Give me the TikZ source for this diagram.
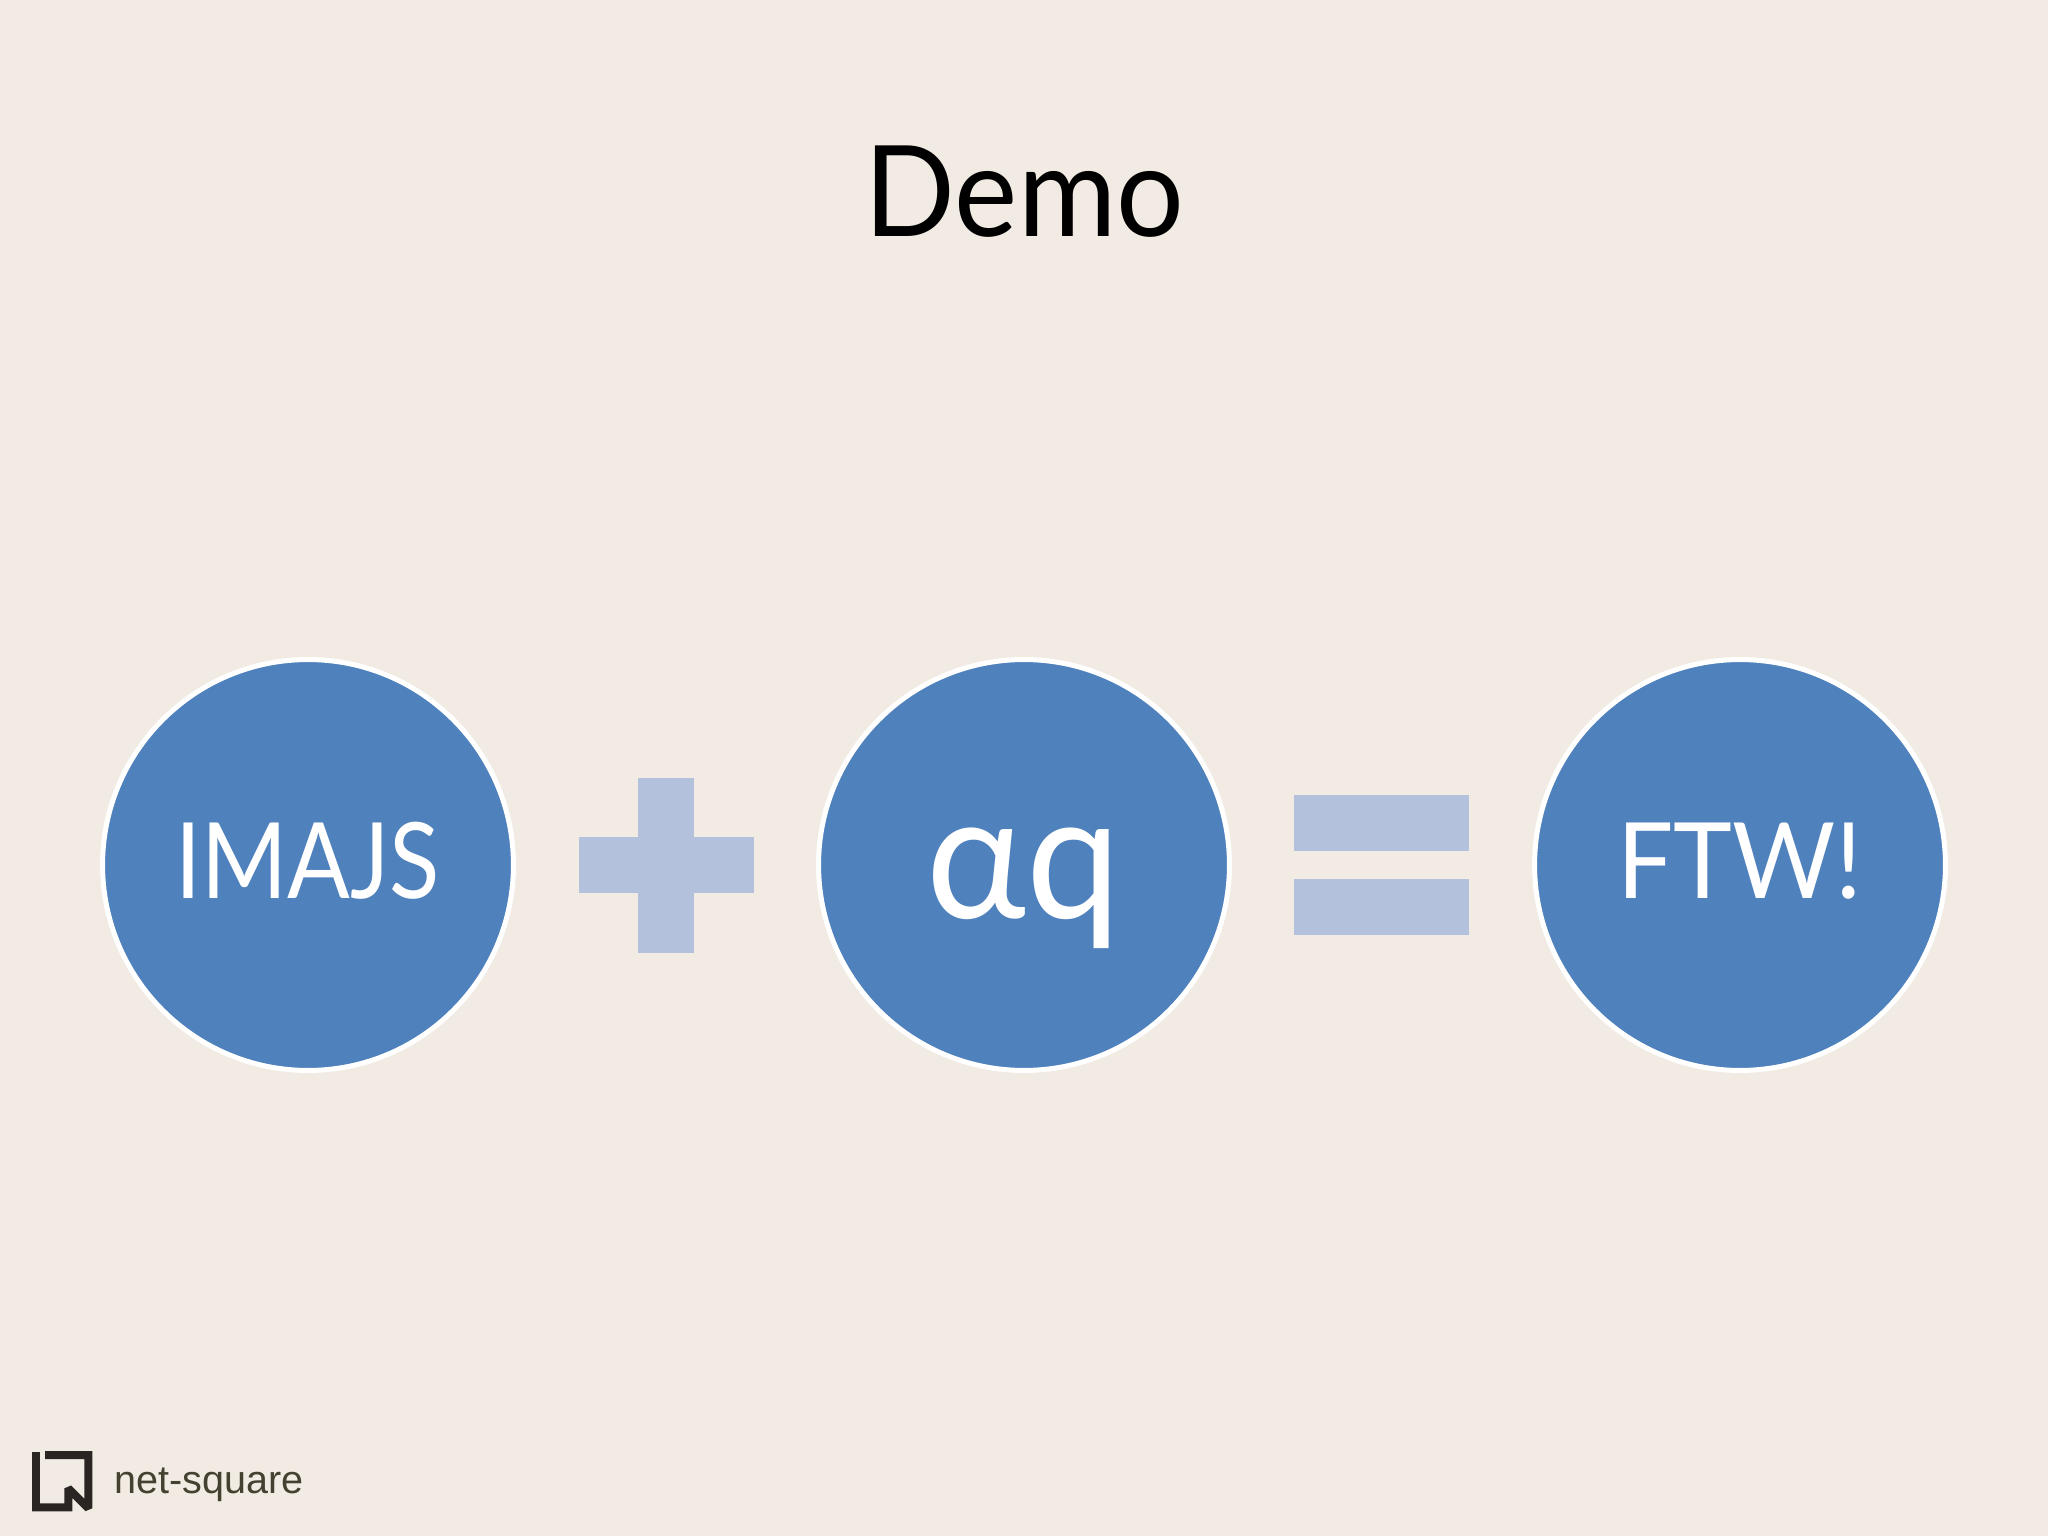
\documentclass[tikz,border=0pt]{standalone}
\usepackage{fontspec}
\setmainfont{Lato}
\newfontfamily\widefont[FakeStretch=0.945]{Lato}
\newfontfamily\discfont[FakeStretch=0.88]{Lato}
\newfontfamily\aqfont[FakeStretch=0.96]{Lato}
\newfontfamily\logofont{Liberation Sans}

\definecolor{paper}{HTML}{F1EBE3}
\definecolor{disc}{HTML}{4F81BD}
\definecolor{sign}{HTML}{B3C1DC}
\definecolor{logoink}{HTML}{2A2522}
\definecolor{logotext}{HTML}{454130}

\tikzset{
	disc/.style = {circle, fill = disc, draw = white, line width = 0.1cm, minimum size = 8.22cm, inner sep = 0, text = white, text height = 1.68cm, text depth = 0.32cm, font = \discfont\fontsize{60}{60}\selectfont}
}

\begin{document}
\begin{tikzpicture}[x = 0.02cm, y = 0.02cm]
	%	page setup
	\def\xmax{2048}
	\def\ymax{1536}
	\def\ymid{671}
	\fill[paper] (0, 0) rectangle (\xmax, \ymax);
	\useasboundingbox (0, 0) rectangle (\xmax, \ymax);

	%	title
	\node[anchor = base, font = \widefont\fontsize{72}{72}\selectfont] (title) at (1024.5, 1299) {Demo};

	%	discs
	\node[disc] (imajs) at (308, \ymid) {IMAJS};
	\node[disc, text height = 2.54cm, text depth = 0.38cm, font = \aqfont\fontsize{100}{100}\selectfont] (aq) at (1024, \ymid) {αq\hspace{0.12cm}};
	\node[disc, font = \widefont\fontsize{60}{60}\selectfont] (ftw) at (1740, \ymid) {FTW!};

	%	plus
	\fill[sign] (579, 643) rectangle (754, 699);
	\fill[sign] (638, 583) rectangle (694, 758);

	%	equals
	\fill[sign] (1294, 685) rectangle (1469, 741);
	\fill[sign] (1294, 601) rectangle (1469, 657);

	%	logo
	\draw[logoink, line width = 0.16cm, miter limit = 2] (36, 84) -- (36, 28.7) -- (68.3, 28.7) -- (68.3, 47.7) -- (88.3, 27.7) -- (88.3, 81) -- (45, 81);
	\node[anchor = base west, inner sep = 0, text = logotext, font = \logofont\fontsize{22.5}{22.5}\selectfont] (netsquare) at (114, 43) {net-square};
\end{tikzpicture}
\end{document}
